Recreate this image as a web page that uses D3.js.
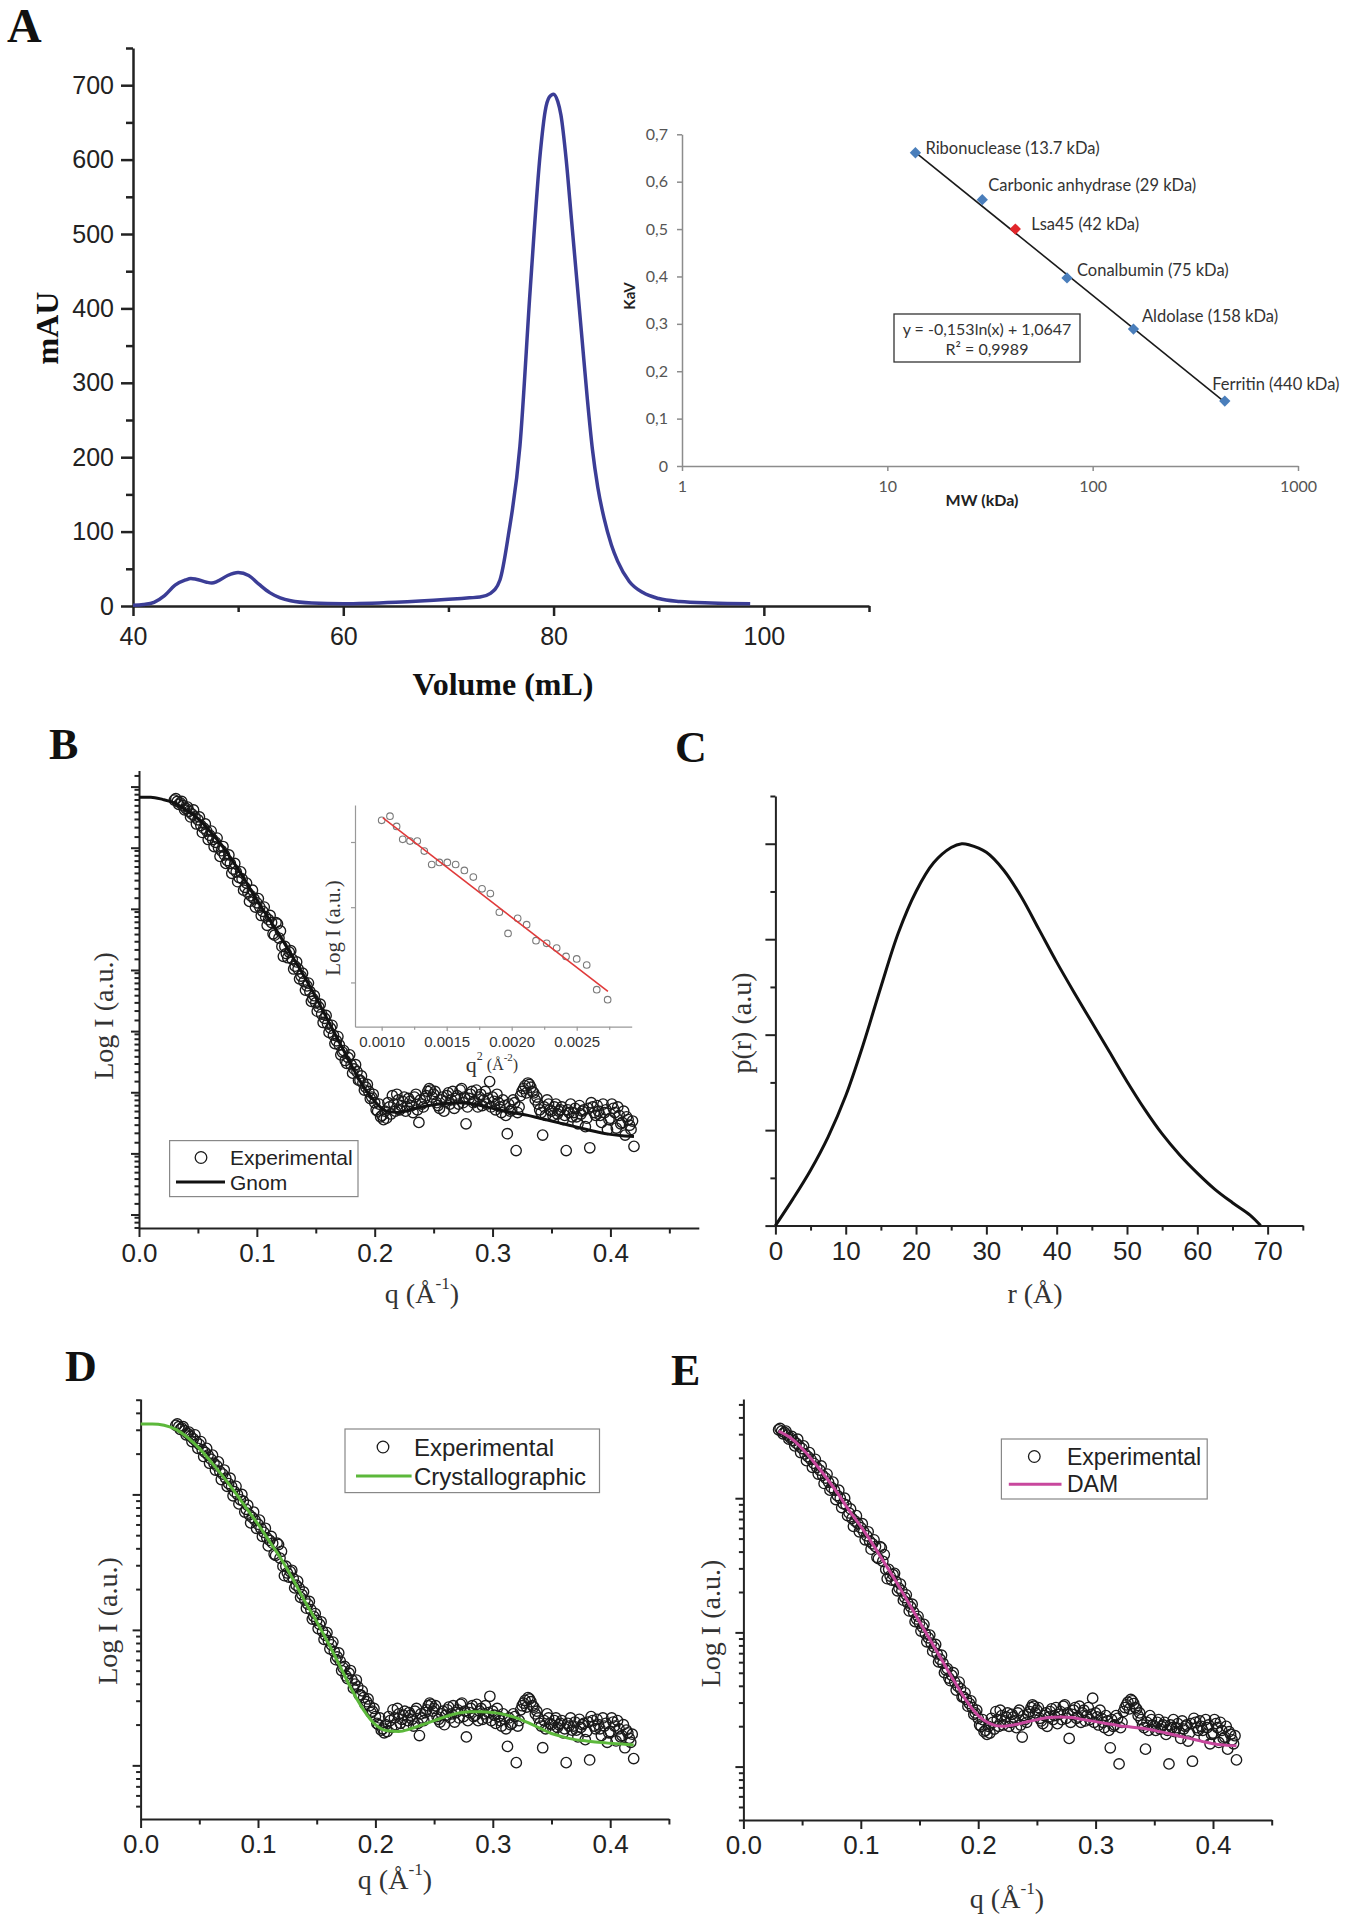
<!DOCTYPE html>
<html>
<head>
<meta charset="utf-8">
<script src="https://cdn.jsdelivr.net/npm/d3@7"></script>
<style>
  body { margin: 0; background: #fff; }
  svg { display: block; }
</style>
</head>
<body>
<svg id="fig" width="1348" height="1920"></svg>
<script>
// ---------- A: size-exclusion chromatogram ----------
const elutionVolume = [40, 41, 42, 43, 44, 45, 45.5, 46, 47, 47.5, 48, 49, 50, 51, 52, 53, 54, 55, 57, 60,
  65, 70, 72, 73, 74, 74.9, 75.7, 76.8, 77.8, 78.75, 79.2, 79.6, 80, 80.4, 80.7, 81.2, 81.7, 82.2, 82.7,
  83.2, 83.7, 84.2, 84.8, 85.5, 86.1, 87.2, 88.5, 90, 92, 95, 98.7];
const absorbance = [1, 2, 5, 14, 28, 35, 37, 36, 32, 31, 33, 41, 45, 41, 29, 18, 11, 7, 4, 3,
  5, 9, 11, 12, 17, 35, 95, 215, 430, 611, 665, 684, 688, 678, 660, 600, 520, 440, 360,
  280, 210, 160, 118, 82, 60, 33, 18, 10, 6, 4, 3];

// A inset: calibration curve
const proteins = ["Ribonuclease (13.7 kDa)", "Carbonic anhydrase (29 kDa)", "Lsa45 (42 kDa)",
  "Conalbumin (75 kDa)", "Aldolase (158 kDa)", "Ferritin (440 kDa)"];
const mwKDa = [13.7, 29, 42, 75, 158, 440];
const kav = [0.661, 0.562, 0.50, 0.397, 0.289, 0.137];
const trendMW = [13.7, 440];
const trendKav = [0.662, 0.135];
const kavTicks = [0, 0.1, 0.2, 0.3, 0.4, 0.5, 0.6, 0.7];
const mwTicks = [1, 10, 100, 1000];
const equationLines = ["y = -0,153ln(x) + 1,0647", "R\u00b2 = 0,9989"];

// ---------- B-E: SAXS experimental curve (q in 1/Å, log10 of intensity) ----------
const expQ = [
  0.0300, 0.0325, 0.0350, 0.0375, 0.0400, 0.0425, 0.0450, 0.0475, 0.0500, 0.0525,
  0.0550, 0.0575, 0.0600, 0.0625, 0.0650, 0.0675, 0.0700, 0.0725, 0.0750, 0.0775,
  0.0800, 0.0825, 0.0850, 0.0875, 0.0900, 0.0925, 0.0950, 0.0975, 0.1000, 0.1025,
  0.1050, 0.1075, 0.1100, 0.1125, 0.1150, 0.1175, 0.1200, 0.1225, 0.1250, 0.1275,
  0.1300, 0.1325, 0.1350, 0.1375, 0.1400, 0.1425, 0.1450, 0.1475, 0.1500, 0.1525,
  0.1550, 0.1575, 0.1600, 0.1625, 0.1650, 0.1675, 0.1700, 0.1725, 0.1750, 0.1775,
  0.1800, 0.1825, 0.1850, 0.1875, 0.1900, 0.1925, 0.1950, 0.1975, 0.2000, 0.2025,
  0.2050, 0.2075, 0.2100, 0.2125, 0.2150, 0.2175, 0.2200, 0.2225, 0.2250, 0.2275,
  0.2300, 0.2325, 0.2350, 0.2375, 0.2400, 0.2425, 0.2450, 0.2475, 0.2500, 0.2525,
  0.2550, 0.2575, 0.2600, 0.2625, 0.2650, 0.2675, 0.2700, 0.2725, 0.2750, 0.2775,
  0.2800, 0.2825, 0.2850, 0.2875, 0.2900, 0.2925, 0.2950, 0.2975, 0.3000, 0.3025,
  0.3050, 0.3075, 0.3100, 0.3125, 0.3150, 0.3175, 0.3200, 0.3225, 0.3250, 0.3275,
  0.3300, 0.3325, 0.3350, 0.3375, 0.3400, 0.3425, 0.3450, 0.3475, 0.3500, 0.3525,
  0.3550, 0.3575, 0.3600, 0.3625, 0.3650, 0.3675, 0.3700, 0.3725, 0.3750, 0.3775,
  0.3800, 0.3825, 0.3850, 0.3875, 0.3900, 0.3925, 0.3950, 0.3975, 0.4000, 0.4025,
  0.4050, 0.4075, 0.4100, 0.4125, 0.4150, 0.4175, 0.4200];
const expLogI = [
  2.51, 2.50, 2.49, 2.47, 2.45, 2.43, 2.41, 2.39, 2.37, 2.33,
  2.31, 2.29, 2.26, 2.23, 2.21, 2.17, 2.15, 2.12, 2.08, 2.06,
  2.02, 2.00, 1.96, 1.95, 1.89, 1.85, 1.83, 1.81, 1.78, 1.75,
  1.72, 1.68, 1.66, 1.64, 1.55, 1.63, 1.58, 1.40, 1.42, 1.43,
  1.38, 1.33, 1.31, 1.26, 1.22, 1.19, 1.15, 1.10, 1.07, 1.04,
  0.99, 0.96, 0.92, 0.89, 0.84, 0.80, 0.77, 0.72, 0.66, 0.68,
  0.63, 0.60, 0.58, 0.52, 0.50, 0.47, 0.44, 0.40, 0.36, 0.30,
  0.26, 0.24, 0.25, 0.33, 0.41, 0.30, 0.38, 0.34, 0.40, 0.33,
  0.37, 0.29, 0.42, 0.22, 0.35, 0.39, 0.44, 0.45, 0.42, 0.36,
  0.32, 0.40, 0.37, 0.43, 0.38, 0.32, 0.41, 0.45, 0.36, 0.21,
  0.39, 0.44, 0.37, 0.33, 0.42, 0.38, 0.35, 0.51, 0.40, 0.31,
  0.36, 0.29, 0.34, 0.14, 0.30, 0.38, 0.02, 0.33, 0.44, 0.48,
  0.50, 0.47, 0.43, 0.40, 0.31, 0.13, 0.27, 0.35, 0.30, 0.33,
  0.28, 0.31, 0.24, 0.02, 0.29, 0.26, 0.32, 0.21, 0.28, 0.31,
  0.25, 0.04, 0.33, 0.27, 0.30, 0.22, 0.29, 0.17, 0.25, 0.32,
  0.18, 0.27, 0.22, 0.13, 0.24, 0.17, 0.05];
// interleaved frames of the same measurement, as [q, log10 I]
const expExtra = [
  [0.03125, 2.52], [0.03375, 2.48], [0.03625, 2.50], [0.03875, 2.44], [0.04125, 2.46], [0.04375, 2.39],
  [0.04625, 2.44], [0.04875, 2.34], [0.05125, 2.39], [0.05375, 2.28], [0.05625, 2.34], [0.05875, 2.23],
  [0.06125, 2.29], [0.06375, 2.18], [0.06625, 2.24], [0.06875, 2.11], [0.07125, 2.18], [0.07375, 2.06],
  [0.07625, 2.12], [0.07875, 1.99], [0.08125, 2.06], [0.08375, 1.93], [0.08625, 2.00], [0.08875, 1.87],
  [0.09125, 1.92], [0.09375, 1.79], [0.09625, 1.87], [0.09875, 1.75], [0.10125, 1.81], [0.10375, 1.69],
  [0.10625, 1.75], [0.10875, 1.62], [0.11125, 1.69], [0.11375, 1.56], [0.11625, 1.64], [0.11875, 1.53],
  [0.12125, 1.47], [0.12375, 1.47], [0.12625, 1.39], [0.12875, 1.44], [0.13125, 1.31], [0.13375, 1.36],
  [0.13625, 1.24], [0.13875, 1.28], [0.14125, 1.16], [0.14375, 1.21], [0.14625, 1.08], [0.14875, 1.12],
  [0.15125, 1.01], [0.15375, 1.06], [0.15625, 0.93], [0.15875, 0.98], [0.16125, 0.86], [0.16375, 0.91],
  [0.16625, 0.78], [0.16875, 0.83], [0.17125, 0.70], [0.17375, 0.73], [0.17625, 0.64], [0.17875, 0.70],
  [0.18125, 0.57], [0.18375, 0.63], [0.18625, 0.52], [0.18875, 0.55], [0.19125, 0.45], [0.19375, 0.49],
  [0.19625, 0.39], [0.19875, 0.42], [0.20125, 0.31], [0.20375, 0.35], [0.20625, 0.27], [0.20875, 0.30],
  [0.21125, 0.36], [0.21375, 0.28], [0.21625, 0.35], [0.21875, 0.42], [0.22125, 0.31], [0.22375, 0.37],
  [0.22625, 0.30], [0.22875, 0.39], [0.23125, 0.34], [0.23375, 0.40], [0.23625, 0.31], [0.23875, 0.38],
  [0.24125, 0.33], [0.24375, 0.41], [0.24625, 0.46], [0.24875, 0.40], [0.25125, 0.44], [0.25375, 0.34],
  [0.25625, 0.38], [0.25875, 0.30], [0.26125, 0.41], [0.26375, 0.35], [0.26625, 0.44], [0.26875, 0.39],
  [0.27125, 0.35], [0.27375, 0.46], [0.27625, 0.40], [0.27875, 0.33], [0.28125, 0.42], [0.28375, 0.36],
  [0.28625, 0.45], [0.28875, 0.40], [0.29125, 0.34], [0.29375, 0.44], [0.29625, 0.39], [0.29875, 0.33],
  [0.30125, 0.37], [0.30375, 0.42], [0.30625, 0.33], [0.30875, 0.38], [0.31125, 0.27], [0.31375, 0.35],
  [0.31625, 0.31], [0.31875, 0.36], [0.32125, 0.29], [0.32375, 0.41], [0.32625, 0.46], [0.32875, 0.43],
  [0.33125, 0.49], [0.33375, 0.44], [0.33625, 0.38], [0.33875, 0.35], [0.34125, 0.29], [0.34375, 0.33],
  [0.34625, 0.38], [0.34875, 0.31], [0.35125, 0.27], [0.35375, 0.35], [0.35625, 0.30], [0.35875, 0.33],
  [0.36125, 0.27], [0.36375, 0.31], [0.36625, 0.35], [0.36875, 0.29], [0.37125, 0.26], [0.37375, 0.34],
  [0.37625, 0.30], [0.37875, 0.19], [0.38125, 0.32], [0.38375, 0.36], [0.38625, 0.29], [0.38875, 0.34],
  [0.39125, 0.27], [0.39375, 0.35], [0.39625, 0.31], [0.39875, 0.24], [0.40125, 0.35], [0.40375, 0.29],
  [0.40625, 0.33], [0.40875, 0.21], [0.41125, 0.30], [0.41375, 0.26], [0.41625, 0.20], [0.41875, 0.23]];

// B fit (GNOM), D fit (crystal structure), E fit (DAM)
const gnomQ = [0, 0.01, 0.02, 0.03, 0.04, 0.05, 0.06, 0.07, 0.08, 0.09, 0.10, 0.11, 0.12, 0.13, 0.14,
  0.15, 0.16, 0.17, 0.18, 0.19, 0.20, 0.21, 0.22, 0.23, 0.24, 0.25, 0.26, 0.27, 0.28, 0.29, 0.30,
  0.31, 0.32, 0.33, 0.34, 0.35, 0.36, 0.37, 0.38, 0.39, 0.40, 0.41, 0.42];
const gnomLogI = [2.53, 2.53, 2.515, 2.49, 2.44, 2.38, 2.29, 2.19, 2.07, 1.94, 1.80, 1.67, 1.54, 1.40, 1.26,
  1.11, 0.95, 0.79, 0.63, 0.48, 0.37, 0.30, 0.29, 0.31, 0.33, 0.345, 0.355, 0.36, 0.355, 0.34, 0.32,
  0.30, 0.285, 0.27, 0.25, 0.23, 0.21, 0.19, 0.17, 0.15, 0.135, 0.125, 0.12];
const crystQ = gnomQ;
const crystLogI = [2.52, 2.52, 2.51, 2.48, 2.42, 2.34, 2.24, 2.135, 2.02, 1.90, 1.78, 1.65, 1.52, 1.37, 1.21,
  1.06, 0.90, 0.73, 0.556, 0.408, 0.30, 0.255, 0.25, 0.27, 0.30, 0.33, 0.36, 0.385, 0.395, 0.396, 0.39,
  0.375, 0.35, 0.315, 0.275, 0.235, 0.21, 0.19, 0.18, 0.17, 0.163, 0.157, 0.15];
const damQ = [0.03, 0.04, 0.05, 0.06, 0.07, 0.08, 0.09, 0.10, 0.11, 0.12, 0.13, 0.14, 0.15, 0.16, 0.17,
  0.18, 0.19, 0.20, 0.21, 0.22, 0.23, 0.24, 0.25, 0.26, 0.27, 0.28, 0.29, 0.30, 0.31, 0.32, 0.33,
  0.34, 0.35, 0.36, 0.37, 0.38, 0.39, 0.40, 0.41, 0.42];
const damLogI = [2.50, 2.45, 2.37, 2.27, 2.16, 2.04, 1.91, 1.79, 1.66, 1.52, 1.38, 1.23, 1.08, 0.93, 0.78,
  0.63, 0.49, 0.38, 0.32, 0.30, 0.31, 0.33, 0.35, 0.365, 0.37, 0.365, 0.35, 0.335, 0.32, 0.305, 0.295,
  0.285, 0.27, 0.25, 0.23, 0.21, 0.19, 0.17, 0.16, 0.155];

// B inset: Guinier region
const guinierQ2 = [0.00100, 0.001064, 0.001115, 0.001162, 0.001218, 0.001274, 0.001328, 0.001385, 0.001444,
  0.001505, 0.001569, 0.001636, 0.001705, 0.001772, 0.001836, 0.001905, 0.001972, 0.002046, 0.002115,
  0.002187, 0.002269, 0.002346, 0.002418, 0.00250, 0.002577, 0.002654, 0.002738];
const guinierI = [418.2, 421.7, 413.0, 402.2, 400.8, 400.8, 392.6, 382.0, 383.6, 383.6, 382.0, 377.4, 372.3,
  363.4, 359.9, 346.4, 331.7, 342.1, 337.7, 326.8, 325.0, 321.9, 316.4, 314.8, 310.9, 295.6, 289.6];
const guinierFitQ2 = [0.00101, 0.00274];
const guinierFitI = [420.2, 294.5];
const guinierTicks = [0.0010, 0.0015, 0.0020, 0.0025];

// C: pair distance distribution
const rDist = [0, 2.5, 5, 7.5, 10, 12.5, 15, 17.5, 20, 22.5, 25, 26.5, 27.5, 30, 32.5, 35, 37.5, 40, 42.5,
  45, 47.5, 50, 52.5, 55, 57.5, 60, 62.5, 65, 67.5, 69];
const pr = [0, 0.28, 0.58, 0.93, 1.36, 1.90, 2.50, 3.07, 3.50, 3.80, 3.96, 4.0, 3.99, 3.91, 3.72, 3.44, 3.10,
  2.76, 2.44, 2.13, 1.82, 1.51, 1.22, 0.96, 0.74, 0.55, 0.38, 0.24, 0.11, 0.0];

// ---------- drawing ----------
const SERIF = "'Liberation Serif','Times New Roman',serif";
const SANS = "'Liberation Sans',Arial,sans-serif";
const CAL = "Lato,'Liberation Sans',sans-serif";
const INK = "#222";

const svg = d3.select("#fig");

function drawAxis(g, axis, transform, o) {
  const a = g.append("g").attr("transform", transform).call(axis);
  a.select(".domain").attr("stroke", o.color || INK).attr("stroke-width", o.width || 2);
  a.selectAll(".tick line").attr("stroke", o.color || INK).attr("stroke-width", o.width || 2);
  a.selectAll(".tick text")
    .attr("font-family", o.font || SANS)
    .attr("font-size", o.size || 26)
    .attr("fill", o.text || INK);
  if (o.noDomain) a.select(".domain").remove();
  return a;
}

function panelLetter(letter, x, y, size) {
  svg.append("text").attr("x", x).attr("y", y).text(letter)
    .attr("font-family", SERIF).attr("font-weight", "bold").attr("font-size", size).attr("fill", "#111");
}

function vTitle(g, text, x, y, size, weight, color, font) {
  g.append("text").attr("transform", `translate(${x},${y}) rotate(-90)`)
    .attr("text-anchor", "middle").attr("dominant-baseline", "central")
    .attr("font-family", font || SERIF).attr("font-weight", weight || "normal")
    .attr("font-size", size).attr("fill", color || "#333").text(text);
}

function qTitle(g, cx, cy, size) {
  const t = g.append("text").attr("x", cx).attr("y", cy).attr("text-anchor", "middle")
    .attr("dominant-baseline", "central").attr("font-family", SERIF).attr("font-size", size).attr("fill", "#333");
  t.append("tspan").text("q (\u00c5");
  t.append("tspan").attr("font-size", size * 0.62).attr("dy", -size * 0.36).text("-1");
  t.append("tspan").attr("dy", size * 0.36).text(")");
}

// ===== Panel A =====
panelLetter("A", 7, 42, 48);
const gA = svg.append("g");
const xA = d3.scaleLinear().domain([40, 110]).range([133, 869]);
const yA = d3.scaleLinear().domain([0, 750]).range([606, 48]);

drawAxis(gA, d3.axisLeft(yA).tickValues(d3.range(0, 701, 100)).tickSize(12).tickPadding(7).tickSizeOuter(0),
  "translate(133,0)", { width: 2.5, size: 25 });
drawAxis(gA, d3.axisLeft(yA).tickValues(d3.range(50, 751, 100)).tickSize(7).tickFormat(""),
  "translate(133,0)", { width: 2.5, noDomain: true });
drawAxis(gA, d3.axisBottom(xA).tickValues([40, 60, 80, 100]).tickSize(10).tickPadding(11).tickSizeOuter(0),
  "translate(0,606)", { width: 2.5, size: 25 });
drawAxis(gA, d3.axisBottom(xA).tickValues([50, 70, 90, 110]).tickSize(6).tickFormat(""),
  "translate(0,606)", { width: 2.5, noDomain: true });

gA.append("path")
  .datum(d3.zip(elutionVolume, absorbance))
  .attr("fill", "none").attr("stroke", "#3b3d96").attr("stroke-width", 3.5).attr("stroke-linejoin", "round")
  .attr("d", d3.line().x(d => xA(d[0])).y(d => yA(d[1])).curve(d3.curveMonotoneX));

vTitle(gA, "mAU", 47, 328, 32, "bold", "#111");
gA.append("text").attr("x", 503).attr("y", 684).attr("text-anchor", "middle").attr("dominant-baseline", "central")
  .attr("font-family", SERIF).attr("font-weight", "bold").attr("font-size", 32).attr("fill", "#111")
  .text("Volume (mL)");

// ===== Panel A inset =====
const gI = svg.append("g");
const xI = d3.scaleLog().domain([1, 1000]).range([682, 1298]);
const yI = d3.scaleLinear().domain([0, 0.7]).range([466, 134.3]);
const grey = "#8c8c8c";
drawAxis(gI, d3.axisLeft(yI).tickValues(kavTicks).tickSize(5).tickPadding(9).tickSizeOuter(0)
  .tickFormat(d => d === 0 ? "0" : d.toFixed(1).replace(".", ",")),
  "translate(682,0)", { color: grey, width: 1.5, font: CAL, size: 16, text: "#555" });
drawAxis(gI, d3.axisBottom(xI).tickValues(mwTicks).tickSize(5).tickPadding(10).tickSizeOuter(0)
  .tickFormat(d3.format("d")),
  "translate(0,466)", { color: grey, width: 1.5, font: CAL, size: 16, text: "#555" });

gI.append("path")
  .datum(d3.zip(trendMW, trendKav))
  .attr("fill", "none").attr("stroke", "#1a1a1a").attr("stroke-width", 1.6)
  .attr("d", d3.line().x(d => xI(d[0])).y(d => yI(d[1])));

gI.selectAll(".mk").data(mwKDa).join("path").attr("class", "mk")
  .attr("transform", (d, i) => `translate(${xI(d)},${yI(kav[i])}) rotate(45)`)
  .attr("d", d3.symbol(d3.symbolSquare, 64))
  .attr("fill", (d, i) => proteins[i].startsWith("Lsa45") ? "#e2262b" : "#4a7ebb");

const labelOffsets = [[10, -5], [6, -14], [16, -5], [10, -8], [8.5, -13], [-12.6, -16.5]];
gI.selectAll(".lbl").data(proteins).join("text").attr("class", "lbl")
  .attr("x", (d, i) => xI(mwKDa[i]) + labelOffsets[i][0])
  .attr("y", (d, i) => yI(kav[i]) + labelOffsets[i][1])
  .attr("dy", "0.35em")
  .attr("font-family", CAL).attr("font-size", 16.5).attr("fill", "#333")
  .text(d => d);

gI.append("rect").attr("x", 894).attr("y", 314).attr("width", 186).attr("height", 48)
  .attr("fill", "#fff").attr("stroke", "#333").attr("stroke-width", 1.3);
gI.selectAll(".eq").data(equationLines).join("text").attr("class", "eq")
  .attr("x", 987).attr("y", (d, i) => 329 + i * 20).attr("dy", "0.35em").attr("text-anchor", "middle")
  .attr("font-family", CAL).attr("font-size", 16).attr("fill", "#333").text(d => d);

vTitle(gI, "KaV", 629, 296, 15, "bold", "#222", CAL);
gI.append("text").attr("x", 982).attr("y", 499).attr("text-anchor", "middle").attr("dominant-baseline", "central")
  .attr("font-family", CAL).attr("font-weight", "bold").attr("font-size", 16).attr("fill", "#222").text("MW (kDa)");

// ===== SAXS panels (B, D, E) =====
const expPoints = d3.zip(expQ, expLogI).concat(expExtra);

function saxsPanel(p) {
  const g = svg.append("g");
  const x = d3.scaleLinear().domain([0, p.qMax]).range([p.x0, p.x1]);
  const y = d3.scaleLog().domain(p.yDomain).range([p.y1, p.y0]);

  drawAxis(g, d3.axisLeft(y).tickValues(p.majors).tickSize(8).tickFormat("").tickSizeOuter(0),
    `translate(${p.x0},0)`, {});
  drawAxis(g, d3.axisLeft(y).tickValues(p.minors).tickSize(4.5).tickFormat(""),
    `translate(${p.x0},0)`, { noDomain: true });
  drawAxis(g, d3.axisBottom(x).tickValues([0, 0.1, 0.2, 0.3, 0.4]).tickSize(9).tickPadding(7)
    .tickSizeOuter(0).tickFormat(d3.format(".1f")),
    `translate(0,${p.y1})`, {});
  drawAxis(g, d3.axisBottom(x).tickValues([0.05, 0.15, 0.25, 0.35, 0.45]).tickSize(5.5).tickFormat(""),
    `translate(0,${p.y1})`, { noDomain: true });

  g.append("g").selectAll("circle").data(expPoints).join("circle")
    .attr("cx", d => x(d[0])).attr("cy", d => y(10 ** d[1])).attr("r", 5.2)
    .attr("fill", "none").attr("stroke", "#1a1a1a").attr("stroke-width", 1.35);

  g.append("path").datum(d3.zip(p.fitQ, p.fitLogI))
    .attr("fill", "none").attr("stroke", p.fitColor).attr("stroke-width", 3)
    .attr("d", d3.line().x(d => x(d[0])).y(d => y(10 ** d[1])).curve(d3.curveMonotoneX));

  const L = p.legend;
  g.append("rect").attr("x", L.x).attr("y", L.y).attr("width", L.w).attr("height", L.h)
    .attr("fill", "#fff").attr("stroke", "#888").attr("stroke-width", 1.2);
  g.append("circle").attr("cx", L.cx).attr("cy", L.row1).attr("r", 5.8)
    .attr("fill", "none").attr("stroke", "#1a1a1a").attr("stroke-width", 1.3);
  g.append("line").attr("x1", L.l0).attr("x2", L.l1).attr("y1", L.row2).attr("y2", L.row2)
    .attr("stroke", p.fitColor).attr("stroke-width", 3);
  [["Experimental", L.row1], [p.fitName, L.row2]].forEach(([t, yy]) => {
    g.append("text").attr("x", L.tx).attr("y", yy).attr("dominant-baseline", "central")
      .attr("font-family", SANS).attr("font-size", L.size).attr("fill", "#222").text(t);
  });

  vTitle(g, "Log I (a.u.)", p.yTitle[0], p.yTitle[1], 28);
  qTitle(g, p.xTitle[0], p.xTitle[1], 28);
  return { g, x, y };
}

function log10Ticks(domain) {
  const s = d3.scaleLog().domain(domain);
  const all = s.ticks();
  const majors = all.filter(v => Math.abs(Math.log10(v) - Math.round(Math.log10(v))) < 1e-9);
  const minors = all.filter(v => !majors.includes(v));
  return { majors, minors };
}

// B uses a natural-log axis
const domB = [10 ** -0.53, 10 ** 2.72];
const lnMajorsB = d3.range(-1, 7).map(k => Math.exp(k)).filter(v => v >= domB[0] && v <= domB[1]);
const lnMinorsB = d3.range(-2, 7).flatMap(k => [1.2, 1.4, 1.6, 1.8, 2.0, 2.2, 2.4, 2.6].map(m => m * Math.exp(k)))
  .filter(v => v >= domB[0] && v <= domB[1]);

panelLetter("B", 49, 759, 44);
saxsPanel({
  qMax: 0.475, x0: 139, x1: 698.8, y0: 770.5, y1: 1228, yDomain: domB,
  majors: lnMajorsB, minors: lnMinorsB,
  fitQ: gnomQ, fitLogI: gnomLogI, fitColor: "#111", fitName: "Gnom",
  legend: { x: 169.6, y: 1140.6, w: 188.4, h: 56, cx: 201, row1: 1157.5, l0: 176, l1: 225, row2: 1182, tx: 230, size: 21 },
  yTitle: [103, 1016], xTitle: [422, 1293]
});

// B inset (Guinier plot)
const gG = svg.append("g");
const xG = d3.scaleLinear().domain([0.000795, 0.002923]).range([355, 631.7]);
const yG = d3.scaleLog().domain([274, 431.5]).range([1026.7, 805]);
drawAxis(gG, d3.axisLeft(yG).tickValues([300, 350, 400]).tickSize(4).tickFormat("").tickSizeOuter(0),
  "translate(355,0)", { color: "#999", width: 1.2 });
drawAxis(gG, d3.axisBottom(xG).tickValues(guinierTicks).tickSize(4).tickPadding(6).tickSizeOuter(0)
  .tickFormat(d3.format(".4f")),
  "translate(0,1026.7)", { color: "#999", width: 1.2, size: 15, text: "#333" });
drawAxis(gG, d3.axisBottom(xG).tickValues([0.00125, 0.00175, 0.00225, 0.00275]).tickSize(3).tickFormat(""),
  "translate(0,1026.7)", { color: "#999", width: 1.2, noDomain: true });
gG.selectAll("circle").data(guinierQ2).join("circle")
  .attr("cx", d => xG(d)).attr("cy", (d, i) => yG(guinierI[i])).attr("r", 3.3)
  .attr("fill", "none").attr("stroke", "#7a7a7a").attr("stroke-width", 1.1);
gG.append("path").datum(d3.zip(guinierFitQ2, guinierFitI))
  .attr("fill", "none").attr("stroke", "#e03a3a").attr("stroke-width", 1.6)
  .attr("d", d3.line().x(d => xG(d[0])).y(d => yG(d[1])));
vTitle(gG, "Log I (a.u.)", 333, 928, 21);
{
  const t = gG.append("text").attr("x", 492).attr("y", 1064).attr("text-anchor", "middle")
    .attr("dominant-baseline", "central").attr("font-family", SERIF).attr("fill", "#333");
  t.append("tspan").attr("font-size", 22).text("q");
  t.append("tspan").attr("font-size", 12).attr("dy", -8).text("2");
  t.append("tspan").attr("font-size", 16).attr("dy", 8).text(" (\u00c5");
  t.append("tspan").attr("font-size", 11).attr("dy", -7).text("-2");
  t.append("tspan").attr("font-size", 16).attr("dy", 7).text(")");
}

// ===== Panel C =====
panelLetter("C", 675, 762, 44);
const gC = svg.append("g");
const xC = d3.scaleLinear().domain([0, 75]).range([775.4, 1302.8]);
const yC = d3.scaleLinear().domain([0, 4.5]).range([1225.6, 796]);
drawAxis(gC, d3.axisLeft(yC).tickValues([0, 1, 2, 3, 4]).tickSize(10).tickFormat("").tickSizeOuter(0),
  "translate(775.4,0)", {});
drawAxis(gC, d3.axisLeft(yC).tickValues([0.5, 1.5, 2.5, 3.5, 4.5]).tickSize(5).tickFormat(""),
  "translate(775.4,0)", { noDomain: true });
drawAxis(gC, d3.axisBottom(xC).tickValues(d3.range(0, 71, 10)).tickSize(9).tickPadding(7).tickSizeOuter(0),
  "translate(0,1225.6)", {});
drawAxis(gC, d3.axisBottom(xC).tickValues(d3.range(5, 76, 10)).tickSize(5).tickFormat(""),
  "translate(0,1225.6)", { noDomain: true });
gC.append("path").datum(d3.zip(rDist, pr))
  .attr("fill", "none").attr("stroke", "#111").attr("stroke-width", 3)
  .attr("d", d3.line().x(d => xC(d[0])).y(d => yC(d[1])).curve(d3.curveCatmullRom.alpha(0.5)));
vTitle(gC, "p(r) (a.u)", 741, 1023, 28);
gC.append("text").attr("x", 1035).attr("y", 1293).attr("text-anchor", "middle").attr("dominant-baseline", "central")
  .attr("font-family", SERIF).attr("font-size", 28).attr("fill", "#333").text("r (\u00c5)");

// ===== Panel D =====
panelLetter("D", 65, 1381, 44);
const domD = [10 ** -0.396, 10 ** 2.705];
const tD = log10Ticks(domD);
saxsPanel({
  qMax: 0.45, x0: 140.6, x1: 668.9, y0: 1398.9, y1: 1819, yDomain: domD,
  majors: tD.majors, minors: tD.minors,
  fitQ: crystQ, fitLogI: crystLogI, fitColor: "#5cb83b", fitName: "Crystallographic",
  legend: { x: 345, y: 1429, w: 254.5, h: 63.6, cx: 383, row1: 1447, l0: 356, l1: 411.6, row2: 1476, tx: 414, size: 24 },
  yTitle: [107, 1621], xTitle: [395, 1879]
});

// ===== Panel E =====
panelLetter("E", 671, 1385, 44);
const domE = [10 ** -0.398, 10 ** 2.74];
const tE = log10Ticks(domE);
saxsPanel({
  qMax: 0.45, x0: 743.4, x1: 1271.7, y0: 1398.9, y1: 1820, yDomain: domE,
  majors: tE.majors, minors: tE.minors,
  fitQ: damQ, fitLogI: damLogI, fitColor: "#c8479d", fitName: "DAM",
  legend: { x: 1001.4, y: 1439, w: 205.8, h: 60, cx: 1034.3, row1: 1456.5, l0: 1008.8, l1: 1061.5, row2: 1484.3, tx: 1067, size: 23 },
  yTitle: [710.5, 1623.5], xTitle: [1007, 1898]
});
</script>
</body>
</html>
